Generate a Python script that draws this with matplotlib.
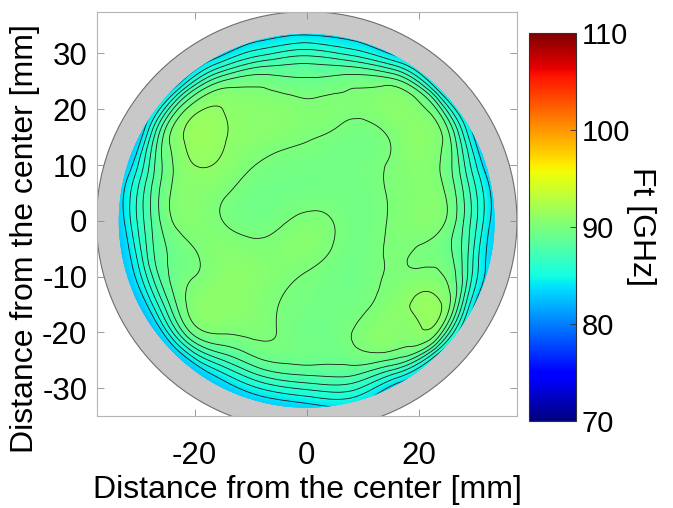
import numpy as np
import matplotlib
matplotlib.use("Agg")
import matplotlib.pyplot as plt
import matplotlib.tri as mtri
from matplotlib.patches import Circle
from matplotlib.colors import Normalize
from matplotlib.colorbar import ColorbarBase

plt.rcParams['font.family'] = ['Liberation Sans', 'DejaVu Sans']
plt.rcParams['axes.unicode_minus'] = False

nan = np.nan

# Ft [GHz] read on a 5 mm grid inside the wafer (nan = outside r~26 mm)
grid_x = [-25, -20, -15, -10, -5, 0, 5, 10, 15, 20, 25]
grid_y = [25, 20, 15, 10, 5, 0, -5, -10, -15, -20, -25]
ft_grid = [
    [nan, nan, nan, nan, 89.4, 89.2, 89.4, nan, nan, nan, nan],
    [nan, nan, 91.0, 90.7, 90.6, 90.3, 90.3, 90.25, 90.7, nan, nan],
    [nan, 91.4, 91.1, 90.7, 90.4, 90.1, 89.8, 89.6, 90.1, 90.8, nan],
    [nan, 91.0, 90.8, 90.1, 89.7, 89.6, 89.6, 89.7, 90.1, 90.6, nan],
    [89.7, 90.6, 90.15, 89.6, 89.5, 89.6, 89.6, 89.6, 90.1, 90.5, 89.85],
    [89.6, 90.5, 90.0, 89.6, 89.8, 90.25, 89.95, 89.6, 90.1, 90.5, 89.9],
    [89.0, 90.0, 90.5, 90.3, 90.4, 90.5, 89.9, 89.6, 90.1, 89.95, 89.3],
    [nan, 90.0, 90.7, 90.7, 90.3, 89.9, 89.6, 89.6, 90.1, 90.3, nan],
    [nan, 90.5, 90.9, 90.6, 90.0, 89.7, 89.6, 89.8, 90.5, 91.2, nan],
    [nan, nan, 90.1, 90.2, 89.95, 89.5, 89.6, 90.3, 90.7, nan, nan],
    [nan, nan, nan, nan, 89.2, 89.3, 89.2, nan, nan, nan, nan],
]

# edge sites on rings (radius in mm, angle in degrees)
ring_r = [28, 30.5, 33, 35.5]
ring_angle = [0, 15, 30, 45, 60, 75, 90, 105, 120, 135, 150, 165,
              180, 195, 210, 225, 240, 255, 270, 285, 300, 315, 330, 345]
ring_ft = [
    [88.0, 85.9, 83.8, 82.0],
    [88.4, 86.2, 84.0, 82.2],
    [90.0, 88.0, 84.8, 82.8],
    [90.4, 89.2, 85.2, 83.0],
    [90.0, 88.0, 84.8, 83.0],
    [88.5, 86.2, 84.2, 83.0],
    [88.1, 86.2, 84.2, 83.0],
    [88.5, 86.2, 84.2, 82.8],
    [89.8, 87.4, 84.4, 82.6],
    [90.8, 88.8, 84.8, 82.6],
    [90.1, 88.0, 84.4, 82.4],
    [88.3, 86.1, 83.8, 81.8],
    [87.8, 85.8, 83.6, 81.6],
    [88.0, 85.6, 83.3, 81.4],
    [88.5, 86.0, 83.2, 81.0],
    [89.6, 87.0, 83.6, 81.4],
    [87.9, 85.6, 83.4, 81.6],
    [87.8, 85.6, 83.6, 81.8],
    [87.8, 85.8, 83.8, 82.0],
    [88.5, 86.8, 84.8, 83.2],
    [89.6, 87.4, 84.4, 82.4],
    [90.8, 90.0, 85.8, 83.0],
    [90.8, 88.9, 85.0, 82.8],
    [88.5, 86.2, 84.0, 82.2],
]

line_levels = [84, 85, 86, 87, 88, 89, 90, 91]
cbar_ticks = [70, 80, 90, 100, 110]
wafer_r = 37.5
data_r = 33.5

# collect all sites
gx, gy = np.meshgrid(grid_x, grid_y)
gz = np.array(ft_grid)
ok = ~np.isnan(gz)
px = list(gx[ok])
py = list(gy[ok])
pz = list(gz[ok])
th = np.deg2rad(ring_angle)
rz = np.array(ring_ft)
for j, r in enumerate(ring_r):
    px += list(r * np.cos(th))
    py += list(r * np.sin(th))
    pz += list(rz[:, j])

tri = mtri.Triangulation(px, py)
refiner = mtri.UniformTriRefiner(tri)
tri_f, z_f = refiner.refine_field(np.array(pz), subdiv=4)

fig = plt.figure(figsize=(6.73, 5.08), dpi=100)
ax = fig.add_axes([0.1441, 0.1811, 0.624, 0.796])
norm = Normalize(70, 110)

ax.add_patch(Circle((0, 0), wafer_r, fc='#c8c8c8', ec='#6e6e6e', lw=0.8, zorder=1))
clip = Circle((0, 0), data_r, transform=ax.transData)
tp = ax.tripcolor(tri_f, z_f, shading='gouraud', cmap='jet', norm=norm, zorder=2)
tp.set_clip_path(clip)
cs = ax.tricontour(tri_f, z_f, levels=line_levels, colors='#1a1a1a', linewidths=0.6, zorder=3)
cs.set_clip_path(clip)

ax.set_xlim(-37.4, 37.5)
ax.set_ylim(-35, 37.5)
ax.set_xticks([-20, 0, 20])
ax.set_yticks([-30, -20, -10, 0, 10, 20, 30])
ax.tick_params(direction='in', length=5, width=0.6, color='#8c8c8c',
               top=True, right=True, labelsize=22.5)
ax.tick_params(axis='x', pad=18)
ax.tick_params(axis='y', pad=7)
for s in ax.spines.values():
    s.set_color('#b4b4b4')
    s.set_linewidth(0.8)
ax.set_xlabel('Distance from the center [mm]', fontsize=23, labelpad=3)
ax.set_ylabel('Distance from the center [mm]', fontsize=23)
ax.yaxis.set_label_coords(-0.136, 0.44)

cax = fig.add_axes([0.786, 0.1713, 0.0698, 0.7638])
cb = ColorbarBase(cax, cmap=plt.get_cmap('jet'), norm=norm, ticks=cbar_ticks)
cb.outline.set_edgecolor('#303030')
cb.outline.set_linewidth(0.8)
cax.tick_params(direction='in', length=4, width=0.6, color='#303030', labelsize=21, pad=4)
cb.set_label('Ft [GHz]', fontsize=23, rotation=270, labelpad=19)

fig.savefig('out.png', dpi=100)
